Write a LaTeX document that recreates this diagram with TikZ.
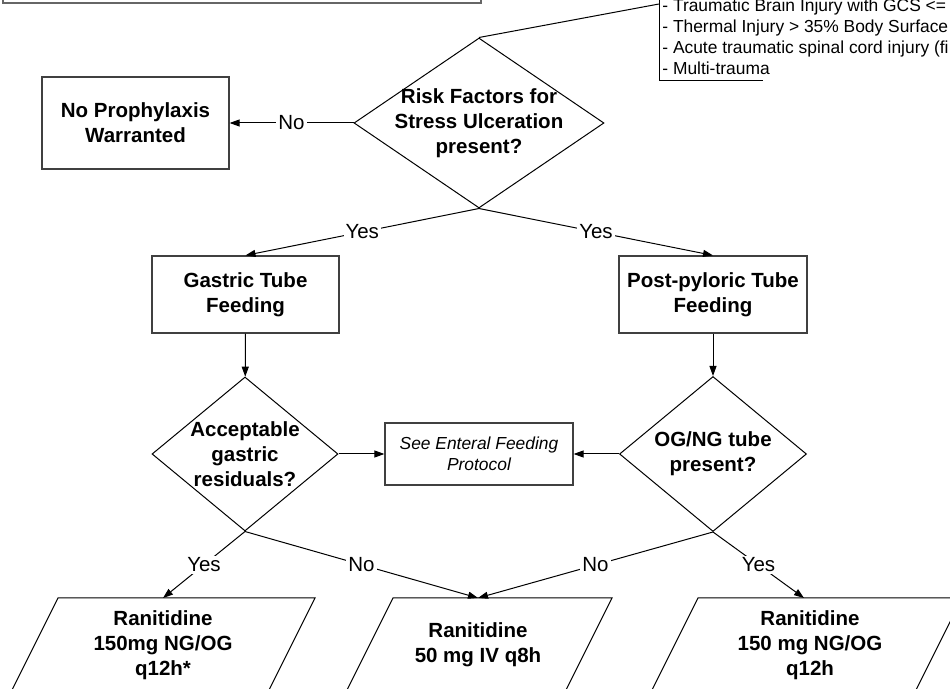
\documentclass[tikz,border=0pt]{standalone}
\usepackage{fontspec}
\setmainfont{Liberation Sans}
\usetikzlibrary{shapes.geometric,arrows.meta}

\begin{document}
\begin{tikzpicture}[x=0.5pt,y=-0.5pt,
  box/.style={draw=black!75,line width=0.6pt,align=center,inner sep=0pt,font=\fontsize{10.25}{12.4}\selectfont\bfseries},
  decide/.style={draw,diamond,line width=0.5pt,inner sep=0pt},
  bold/.style={align=center,inner sep=0pt,font=\fontsize{10.25}{12.4}\selectfont\bfseries},
  small/.style={inner sep=0pt,font=\fontsize{8.7}{10.5}\selectfont},
  lbl/.style={fill=white,inner sep=1pt,font=\fontsize{10.25}{12.4}\selectfont},
  arr/.style={-{Triangle[length=5pt,width=3.5pt]},line width=0.5pt}]
\useasboundingbox (0,0) rectangle (950,689);

% box cut at the top of the page
\draw[black!60,line width=1pt] (3,-10) -- (3,3.5) -- (481,3.5) -- (481,-10);

% risk factor list
\draw[line width=0.5pt] (659,-10) -- (659,81) -- (763,81);
\node[small,anchor=west,align=left] (riskfactors) at (662,37) {- Traumatic Brain Injury with GCS <=\\- Thermal Injury > 35\% Body Surface\\- Acute traumatic spinal cord injury (fi\\- Multi-trauma};
\coordinate (annot) at (659,4);

\node[decide,minimum width=125pt,minimum height=85pt] (risk) at (479,123) {};
\node[bold] (risktext) at (risk) {Risk Factors for\\Stress Ulceration\\present?};
\node[box,minimum width=93.5pt,minimum height=46pt] (noproph) at (135.5,123) {No Prophylaxis\\Warranted};

\node[box,minimum width=93.5pt,minimum height=38.5pt] (gastric) at (245.5,294.5) {Gastric Tube\\Feeding};
\node[box,minimum width=94pt,minimum height=38.5pt] (postpy) at (713,294.5) {Post-pyloric Tube\\Feeding};

\node[decide,minimum width=93pt,minimum height=77pt] (accept) at (245,454) {};
\node[bold] (accepttext) at (accept) {Acceptable\\gastric\\residuals?};
\node[decide,minimum width=93.5pt,minimum height=77.5pt] (ogng) at (713,454) {};
\node[bold] (ogngtext) at (ogng) {OG/NG tube\\present?};
\node[box,font=\fontsize{8.7}{10.5}\selectfont\itshape,minimum width=94pt,minimum height=31pt] (enteral) at (479,454) {See Enteral Feeding\\Protocol};

% drug boxes, cut at the bottom of the page
\draw[line width=0.5pt] (58,598) -- (315,598) -- (268,692) -- (11,692) -- cycle;
\draw[line width=0.5pt] (393,598) -- (612,598) -- (565,692) -- (346,692) -- cycle;
\draw[line width=0.5pt] (698,598) -- (962,598) -- (915,692) -- (651,692) -- cycle;
\node[bold] (ran1) at (163,645) {Ranitidine\\150mg NG/OG\\q12h*};
\node[bold] (ran2) at (478,645) {Ranitidine\\50 mg IV q8h};
\node[bold] (ran3) at (810,645) {Ranitidine\\150 mg NG/OG\\q12h};
\coordinate (top1) at (163,598);
\coordinate (top2) at (478,598);
\coordinate (top3) at (804,598);

\draw[line width=0.5pt] (risk.north) -- (annot);
\draw[arr] (risk.west) -- node[lbl] {No} (noproph.east);
\draw[arr] (risk.south) -- node[lbl] {Yes} (gastric.north);
\draw[arr] (risk.south) -- node[lbl] {Yes} (postpy.north);
\draw[arr] (gastric) -- (accept);
\draw[arr] (postpy) -- (ogng);
\draw[arr] (accept.east) -- (enteral.west);
\draw[arr] (ogng.west) -- (enteral.east);
\draw[arr] (accept.south) -- node[lbl] {Yes} (top1);
\draw[arr] (accept.south) -- node[lbl] {No} (top2);
\draw[arr] (ogng.south) -- node[lbl] {No} (top2);
\draw[arr] (ogng.south) -- node[lbl] {Yes} (top3);
\end{tikzpicture}
\end{document}
